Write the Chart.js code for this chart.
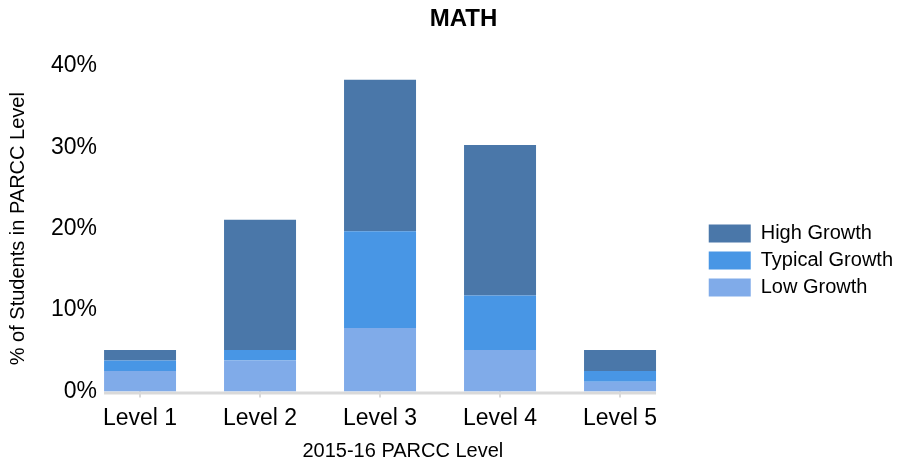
<!DOCTYPE html>
<html>
<head>
<meta charset="utf-8">
<script src="https://cdn.jsdelivr.net/npm/chart.js@4"></script>
<style>
  html, body { margin: 0; padding: 0; background: #fff; }
  #wrap { width: 903px; height: 466px; }
</style>
</head>
<body>
<div id="wrap"><canvas id="chartMath"></canvas></div>
<script>
// dados (percentual de alunos)
const levels = ['Level 1', 'Level 2', 'Level 3', 'Level 4', 'Level 5'];
const lowGrowth = [2.5, 3.8, 7.8, 5.1, 1.2];
const typicalGrowth = [1.3, 1.3, 11.9, 6.7, 1.3];
const highGrowth = [1.3, 16.0, 18.6, 18.5, 2.6];
const yTicks = [0, 10, 20, 30, 40];

const fonte = "'Liberation Sans', Arial, sans-serif";
Chart.defaults.font.family = fonte;
Chart.defaults.color = '#000';

// linha do eixo x so por baixo das barras + titulo
const extras = {
  id: 'extras',
  afterLayout(chart) {
    // sobe um pouco a legenda
    chart.legend.top -= 4;
    chart.legend.bottom -= 4;
  },
  beforeDatasetsDraw(chart) {
    const meta = chart.getDatasetMeta(0);
    const first = meta.data[0], last = meta.data[meta.data.length - 1];
    const y = chart.chartArea.bottom;
    const ctx = chart.ctx;
    ctx.save();
    ctx.strokeStyle = '#d9d9d9';
    ctx.lineWidth = 3;
    ctx.beginPath();
    ctx.moveTo(first.x - first.width / 2, y + 1.5);
    ctx.lineTo(last.x + last.width / 2, y + 1.5);
    ctx.stroke();
    ctx.restore();
  },
  afterDraw(chart) {
    const ctx = chart.ctx;
    ctx.save();
    ctx.font = 'bold 24px ' + fonte;
    ctx.fillStyle = '#000';
    ctx.textAlign = 'center';
    ctx.textBaseline = 'middle';
    ctx.fillText('MATH', chart.width / 2 + 12, 19);
    ctx.restore();
  }
};

const ctx = document.getElementById('chartMath').getContext('2d');
new Chart(ctx, {
  type: 'bar',
  data: {
    labels: levels,
    datasets: [
      { label: 'Low Growth', data: lowGrowth, backgroundColor: '#80abe9' },
      { label: 'Typical Growth', data: typicalGrowth, backgroundColor: '#4896e5' },
      { label: 'High Growth', data: highGrowth, backgroundColor: '#4a77a9' }
    ]
  },
  options: {
    responsive: true,
    maintainAspectRatio: false,
    animation: false,
    layout: { padding: { left: 6, right: 0, top: 66, bottom: 3 } },
    datasets: { bar: { barPercentage: 0.6, categoryPercentage: 1 } },
    plugins: {
      legend: {
        position: 'right',
        reverse: true,
        labels: {
          boxWidth: 42,
          boxHeight: 18,
          padding: 7,
          font: { size: 20 },
          color: '#000'
        }
      },
      tooltip: { enabled: false }
    },
    scales: {
      x: {
        stacked: true,
        afterBuildTicks: s => {
          // espacamento de 120px entre categorias, barras nas bordas
          s._startValue = -0.3;
          s._valueRange = s.width / 120;
        },
        border: { display: false },
        grid: { display: true, drawOnChartArea: false, offset: false, tickLength: 6, color: '#d9d9d9', lineWidth: 2 },
        ticks: { font: { size: 23 }, padding: 7, color: '#000' },
        title: { display: true, text: '2015-16 PARCC Level', font: { size: 20 }, padding: { top: 0, bottom: 0 } }
      },
      y: {
        stacked: true,
        min: 0,
        max: 40,
        afterBuildTicks: s => { s.ticks = yTicks.map(v => ({ value: v })); },
        border: { display: false },
        grid: { display: false, drawTicks: false },
        ticks: { font: { size: 23 }, padding: 7, color: '#000', callback: v => v + '%' },
        title: { display: true, text: '% of Students in PARCC Level', font: { size: 20 }, padding: { top: 0, bottom: 14 } }
      }
    }
  },
  plugins: [extras]
});
</script>
</body>
</html>
